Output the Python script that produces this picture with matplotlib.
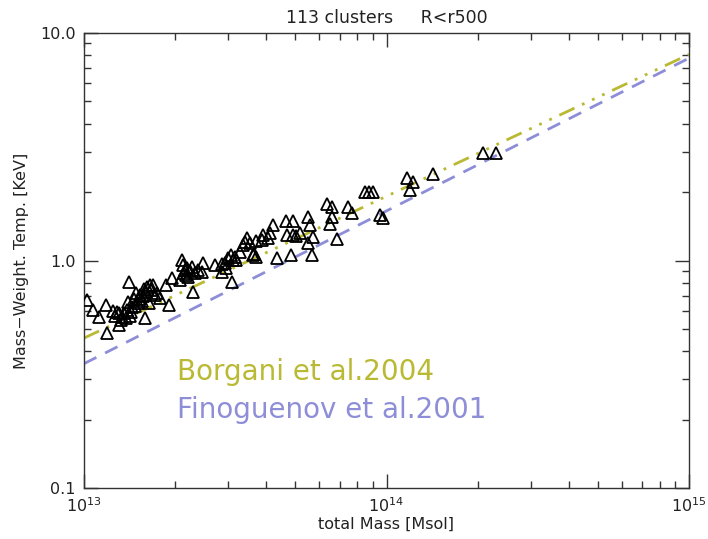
import numpy as np
import matplotlib
matplotlib.use("Agg")
import matplotlib.pyplot as plt
from matplotlib.ticker import FixedLocator, FixedFormatter, NullFormatter

# total mass in units of 1e13 Msol
mass_1e13 = [1.023, 1.071, 1.121, 1.182, 1.191, 1.247, 1.285, 1.305, 1.305, 1.336,
             1.387, 1.398, 1.409, 1.419, 1.441, 1.463, 1.485, 1.508, 1.531, 1.555,
             1.591, 1.579, 1.615, 1.640, 1.653, 1.691, 1.717, 1.743, 1.783, 1.866,
             1.910, 1.954, 2.077, 2.109, 2.141, 2.158, 2.191, 2.207, 2.275, 2.293,
             2.328, 2.455, 2.474, 2.711, 2.859, 2.859, 2.925, 2.992, 3.085, 3.062,
             3.109, 3.181, 3.279, 3.355, 3.406, 3.538, 3.620, 3.458, 3.703, 3.875,
             3.905, 4.057, 4.120, 4.215, 3.648, 3.703, 4.345, 4.834, 4.654, 4.909,
             4.690, 4.909, 5.022, 5.503, 5.587, 5.715, 5.503, 5.672, 6.358, 7.458,
             7.691, 6.604, 6.504, 6.860, 8.489, 8.752, 9.024, 9.517, 9.737, 11.69,
             12.24, 11.96, 14.25, 20.84, 23.01, 6.604, 1.266, 1.325, 1.356, 1.377,
             1.430, 1.474, 1.520, 1.567, 1.603, 1.665, 2.125, 2.174, 2.241, 2.382,
             2.947, 3.157, 5.176]
# mass-weighted temperature [keV]
temp_kev = [0.670, 0.606, 0.564, 0.637, 0.480, 0.600, 0.594, 0.588, 0.521, 0.564,
            0.606, 0.657, 0.804, 0.570, 0.625, 0.677, 0.720, 0.650, 0.705, 0.664,
            0.559, 0.749, 0.765, 0.650, 0.780, 0.780, 0.705, 0.720, 0.684, 0.780,
            0.637, 0.838, 0.821, 1.005, 0.881, 0.908, 0.927, 0.846, 0.936, 0.727,
            0.881, 0.890, 0.975, 0.955, 0.965, 0.890, 0.975, 1.026, 0.804, 1.057,
            1.005, 1.005, 1.090, 1.170, 1.206, 1.194, 1.057, 1.256, 1.218, 1.230,
            1.295, 1.256, 1.321, 1.432, 1.068, 1.036, 1.026, 1.057, 1.491, 1.491,
            1.295, 1.295, 1.281, 1.553, 1.432, 1.268, 1.194, 1.057, 1.772, 1.719,
            1.618, 1.553, 1.454, 1.243, 2.000, 2.000, 2.000, 1.585, 1.538, 2.305,
            2.214, 2.041, 2.400, 2.969, 2.969, 1.719, 0.570, 0.548, 0.588, 0.559,
            0.594, 0.631, 0.677, 0.698, 0.727, 0.742, 0.955, 0.864, 0.899, 0.908,
            0.927, 1.036, 1.321]

# scaling relations: temperature at 1e13 and 1e15 Msol
rel_mass = [1e13, 1e15]
borgani_T = [0.456, 8.05]
finoguenov_T = [0.352, 7.75]

olive = "#b9b934"
lav = "#8e8ed8"

plt.rcParams['font.family'] = ['DejaVu Sans']
fig = plt.figure(figsize=(7.08, 5.39), dpi=100)
ax = fig.add_axes([84/708, 1-488/539, (689-84)/708, (488-33)/539])

ax.plot(np.array(mass_1e13)*1e13, temp_kev, linestyle='none', marker='^',
        markersize=9, markerfacecolor='none', markeredgecolor='black',
        markeredgewidth=1.3, zorder=3)
ax.plot(rel_mass, borgani_T, color=olive, lw=2.0,
        linestyle=(0, (6, 3, 1, 3, 1, 3, 1, 3)), zorder=2)
ax.plot(rel_mass, finoguenov_T, color=lav, lw=2.0,
        linestyle=(0, (5, 3.5)), zorder=2)

ax.set_xscale('log')
ax.set_yscale('log')
ax.set_xlim(1e13, 1e15)
ax.set_ylim(0.1, 10.0)

ax.xaxis.set_major_locator(FixedLocator([1e13, 1e14, 1e15]))
ax.xaxis.set_major_formatter(FixedFormatter([r'$10^{13}$', r'$10^{14}$', r'$10^{15}$']))
xmin = [k*10**e for e in (13, 14) for k in range(2, 10)]
ax.xaxis.set_minor_locator(FixedLocator(xmin))
ax.xaxis.set_minor_formatter(NullFormatter())
ax.yaxis.set_major_locator(FixedLocator([0.1, 1.0, 10.0]))
ax.yaxis.set_major_formatter(FixedFormatter(['0.1', '1.0', '10.0']))
ymin = [k*10.0**e for e in (-1, 0) for k in range(2, 10)]
ax.yaxis.set_minor_locator(FixedLocator(ymin))
ax.yaxis.set_minor_formatter(NullFormatter())

ax.tick_params(which='both', direction='in', top=True, right=True,
               color='#333333', width=1.0, labelsize=11.5, labelcolor='#222222')
ax.tick_params(which='major', length=10, pad=6)
ax.tick_params(which='minor', length=5)
ax.tick_params(axis='x', which='major', pad=6)
for s in ax.spines.values():
    s.set_color('#333333')
    s.set_linewidth(1.0)

ax.set_xlabel('total Mass [Msol]', fontsize=11.5, color='#222222', labelpad=1)
ax.set_ylabel('Mass\u2212Weight. Temp. [KeV]', fontsize=11.5, color='#222222', labelpad=8)
ax.set_title('113 clusters     R<r500', fontsize=12.5, color='#222222', pad=7)

ax.text(177/708, 1-380/539, 'Borgani et al.2004', transform=fig.transFigure,
        fontsize=20, color=olive, ha='left', va='baseline')
ax.text(177/708, 1-418/539, 'Finoguenov et al.2001', transform=fig.transFigure,
        fontsize=20, color=lav, ha='left', va='baseline')

fig.savefig('out.png', dpi=100)
